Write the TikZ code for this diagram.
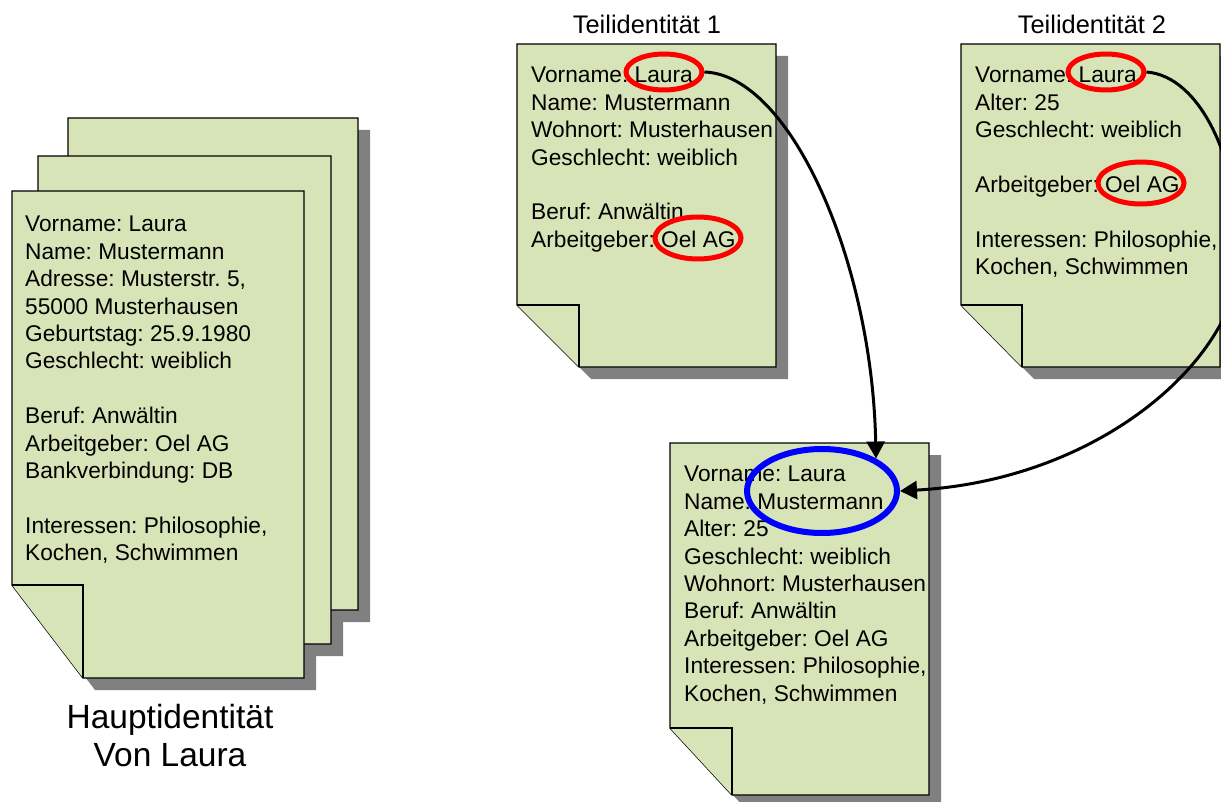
\documentclass[tikz,border=0pt]{standalone}
\usepackage{fontspec}
\setmainfont{Liberation Sans}
\usetikzlibrary{shapes.geometric,arrows.meta}
\definecolor{paperfill}{RGB}{215,228,183}
\definecolor{papergray}{RGB}{128,128,128}
\definecolor{ringred}{RGB}{255,0,0}
\definecolor{ringblue}{RGB}{0,0,255}
\frenchspacing
\begin{document}
\begin{tikzpicture}[x=1pt, y=-1pt,
	paper/.style={fill=paperfill, draw=black, line width=1.4pt},
	paper shadow/.style={fill=papergray},
	entry/.style={anchor=north west, inner sep=0pt, align=left, font=\fontsize{22.7}{27.4}\selectfont},
	caption/.style={anchor=north, inner sep=0pt, align=center},
	ring/.style={ellipse, draw, inner sep=0pt, line width=5pt},
	link/.style={line width=3pt, -{Triangle[length=17pt, width=18pt]}}]
	\useasboundingbox (0,0) rectangle (1221,802);
	\foreach \l/\t/\r/\b/\fx/\fy in {68/118/358/610/139/517, 38/156/331/644/109/551, 12/191/304/678/83/585, 517/44/776/367/579/305, 961/44/1220/367/1022/305, 670/443/929/795/732/728}{
		\fill[paper shadow, shift={(12,12)}] (\l,\t) -- (\r,\t) -- (\r,\b) -- (\fx,\b) -- (\l,\fy) -- cycle;
	}
	\foreach \l/\t/\r/\b/\fx/\fy in {68/118/358/610/139/517, 38/156/331/644/109/551, 12/191/304/678/83/585, 517/44/776/367/579/305, 961/44/1220/367/1022/305, 670/443/929/795/732/728}{
		\draw[paper] (\l,\t) -- (\r,\t) -- (\r,\b) -- (\fx,\b) -- (\l,\fy) -- cycle;
		\draw[paper] (\l,\fy) -- (\fx,\fy) -- (\fx,\b);
	}
	\node[entry] (maintext) at (25,216) {Vorname: Laura\\Name: Mustermann\\Adresse: Musterstr. 5,\\55000 Musterhausen\\Geburtstag: 25.9.1980\\Geschlecht: weiblich\\[27.4pt]Beruf: Anwältin\\Arbeitgeber: Oel AG\\Bankverbindung: DB\\[27.4pt]Interessen: Philosophie,\\Kochen, Schwimmen};
	\node[entry] (teil1text) at (531,67) {Vorname: Laura\\Name: Mustermann\\Wohnort: Musterhausen\\Geschlecht: weiblich\\[27.4pt]Beruf: Anwältin\\Arbeitgeber: Oel AG};
	\node[entry] (teil2text) at (975,67) {Vorname: Laura\\Alter: 25\\Geschlecht: weiblich\\[27.4pt]Arbeitgeber: Oel AG\\[27.4pt]Interessen: Philosophie,\\Kochen, Schwimmen};
	\node[entry] (restext) at (684,466) {Vorname: Laura\\Name: Mustermann\\Alter: 25\\Geschlecht: weiblich\\Wohnort: Musterhausen\\Beruf: Anwältin\\Arbeitgeber: Oel AG\\Interessen: Philosophie,\\Kochen, Schwimmen};
	\node[caption, font=\fontsize{33.5}{38}\selectfont] (haupt) at (170,704) {Hauptidentität\\Von Laura};
	\node[caption, font=\fontsize{25.4}{30}\selectfont] (teil1) at (647,15) {Teilidentität 1};
	\node[caption, font=\fontsize{25.4}{30}\selectfont] (teil2) at (1092,15) {Teilidentität 2};
	\node[ring, ringred, minimum width=76pt, minimum height=36pt] (laura1) at (664,72) {};
	\node[ring, ringred, minimum width=86pt, minimum height=42pt] (oel1) at (698,238) {};
	\node[ring, ringred, minimum width=76pt, minimum height=36pt] (laura2) at (1106,72) {};
	\node[ring, ringred, minimum width=86pt, minimum height=42pt] (oel2) at (1141,183) {};
	\node[ring, ringblue, line width=6pt, minimum width=150pt, minimum height=84pt] (merged) at (822,491) {};
	\draw[link] (laura1.east) .. controls (790,75) and (872,260) .. (merged.31);
	\draw[link] (laura2.east) .. controls (1200,76) and (1240,160) .. (1240,260) .. controls (1235,360) and (1100,480) .. (merged.east);
\end{tikzpicture}
\end{document}
